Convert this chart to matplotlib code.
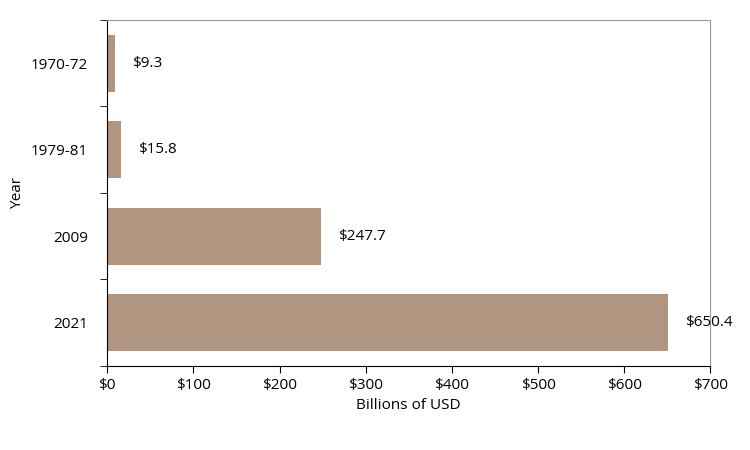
import matplotlib
matplotlib.use("Agg")
import matplotlib.pyplot as plt
import numpy as np

categories = ["1970-72", "1979-81", "2009", "2021"]
values = [9.3, 15.8, 247.7, 650.4]
xticks = [0, 100, 200, 300, 400, 500, 600, 700]

plt.rcParams["font.family"] = "Open Sans"
fig = plt.figure(figsize=(7.5, 4.5), dpi=100)
ax = fig.add_axes([0.143, 0.187, 0.804, 0.769])
y = np.arange(len(categories))
ax.barh(y, values, height=0.66, color="#b09580")
for yi, v in zip(y, values):
    ax.text(v + 20, yi, f"${v:.1f}", va="center", ha="left", fontsize=11)
ax.set_ylim(len(categories) - 0.5, -0.5)
ax.set_yticks(y)
ax.set_yticklabels(categories, fontsize=11)
ax.tick_params(axis="y", which="major", length=0, pad=14)
ax.set_yticks(np.arange(-0.5, len(categories), 1), minor=True)
ax.tick_params(axis="y", which="minor", length=5, direction="out")
ax.set_xlim(0, 700)
ax.set_xticks(xticks)
ax.set_xticklabels([f"${t}" for t in xticks], fontsize=11)
ax.tick_params(axis="x", length=5)
ax.set_xlabel("Billions of USD", fontsize=11)
ax.set_ylabel("Year", fontsize=11)
for s in ["top", "right"]:
    ax.spines[s].set_color("#999999")
fig.savefig("out.png", dpi=100)
